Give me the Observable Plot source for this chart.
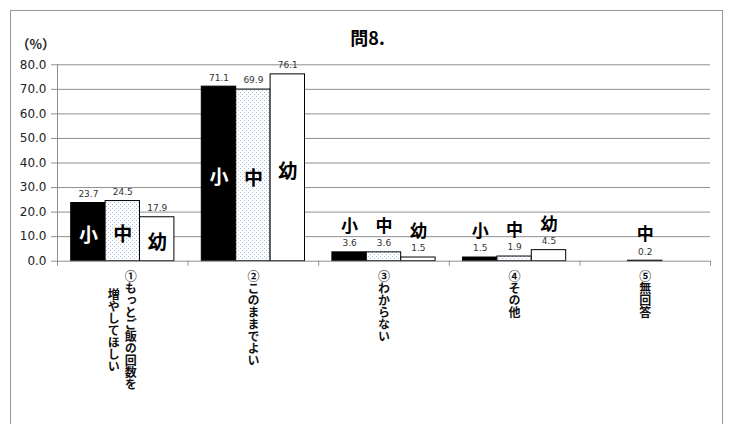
<!DOCTYPE html>
<html>
<head>
<meta charset="utf-8">
<script src="https://cdn.jsdelivr.net/npm/d3@7"></script>
<script src="https://cdn.jsdelivr.net/npm/@observablehq/plot@0.6"></script>
<style>
  html, body { margin: 0; padding: 0; background: #fff; overflow: hidden; }
  #chart { position: relative; width: 731px; height: 424px; }
  #frame { position: absolute; left: 10px; top: 10px; width: 711px; height: 440px;
           border: 1px solid #9a9a9a; pointer-events: none; }
</style>
</head>
<body>
<div id="chart"><div id="frame"></div></div>
<script>
// Answers to question 8, percentage by school level
const categories = ["①もっとご飯の回数を\n増やしてほしい", "②このままでよい", "③わからない", "④その他", "⑤無回答"];
const series = ["小", "中", "幼"];
const valuesSho = [23.7, 71.1, 3.6, 1.5, null];
const valuesChu = [24.5, 69.9, 3.6, 1.9, 0.2];
const valuesYo  = [17.9, 76.1, 1.5, 4.5, null];
const yTicks = [0, 10, 20, 30, 40, 50, 60, 70, 80];
const title = "問8.";
const unitLabel = "（%）";

const seriesValues = [valuesSho, valuesChu, valuesYo];
const rows = categories.flatMap((c, i) =>
  series.map((s, j) => ({category: c, series: s, value: seriesValues[j][i]}))
).filter(d => d.value != null);

// layout
const W = 731, H = 424;
const mL = 57, mR = 21, mT = 64.3, mB = 163.3;
const step = (W - mL - mR) / categories.length;
const barW = 34.4;
const inset = (step - barW) / 2;
const offset = {"小": -barW, "中": 0, "幼": barW};
const fill = {"小": "#000", "中": "url(#dots)", "幼": "#fff"};
const insideColor = {"小": "#fff", "中": "#000", "幼": "#000"};
const jp = "'Noto Sans CJK JP', sans-serif";
const num = "'DejaVu Sans', sans-serif";
const grid = "#8f8f8f";

// category labels split into vertical columns
const labelFont = 12;
const labelTop = 9;
const labelRows = categories.flatMap(c => {
  const lines = c.split("\n");
  return lines.map((t, j) => ({category: c, text: t, j, n: lines.length, len: Array.from(lines[0]).length}));
});
const multiLen = d3.max(labelRows.filter(d => d.n > 1), d => d.len) || 0;

// write category labels top to bottom
const vertical = (index, scales, values, dimensions, context, next) => {
  const g = next(index, scales, values, dimensions, context);
  d3.select(g).selectAll("text").style("writing-mode", "vertical-rl").attr("dy", null);
  return g;
};

// light blue dotted fill for the middle series
const defs = () => {
  const g = d3.create("svg:defs");
  const p = g.append("pattern").attr("id", "dots").attr("patternUnits", "userSpaceOnUse")
    .attr("width", 4).attr("height", 4);
  p.append("rect").attr("width", 4).attr("height", 4).attr("fill", "#fff");
  p.append("rect").attr("x", 0).attr("y", 0).attr("width", 1).attr("height", 1).attr("fill", "#a3bfe0");
  p.append("rect").attr("x", 2).attr("y", 2).attr("width", 1).attr("height", 1).attr("fill", "#a3bfe0");
  return g.node();
};

const marks = [
  defs,
  Plot.ruleY(yTicks.filter(t => t > 0), {y: d => d, stroke: grid, strokeWidth: 1}),
  ...series.map(s => Plot.barY(rows.filter(d => d.series === s), {
    x: "category", y: "value", dx: offset[s], insetLeft: inset, insetRight: inset,
    fill: fill[s], stroke: "#000", strokeWidth: 1
  })),
  Plot.ruleY([0], {stroke: grid}),
  // vertical axis line, and category boundary ticks
  Plot.ruleX(categories.slice(0, 1), {x: d => d, dx: -step / 2, y1: 80, y2: 0, insetBottom: -5, stroke: grid}),
  Plot.ruleX(categories, {x: d => d, dx: step / 2, y1: 0, y2: 0, insetBottom: -5, stroke: grid}),
  Plot.axisY(yTicks, {tickFormat: d => d.toFixed(1), tickSize: 6, tickPadding: 5, fontSize: 12,
    fontFamily: num, stroke: grid, fill: "#222", label: null}),
  // value labels
  ...series.map(s => Plot.text(rows.filter(d => d.series === s), {
    x: "category", y: "value", text: d => d.value.toFixed(1), dx: offset[s], dy: -9,
    fontSize: 9, fontFamily: num, fill: "#333"
  })),
  // series names inside tall bars
  ...series.map(s => Plot.text(rows.filter(d => d.series === s && d.value >= 15), {
    x: "category", y: d => d.value / 2, text: "series", dx: offset[s], dy: 4,
    fontSize: 19, fontWeight: "bold", fontFamily: jp, fill: insideColor[s]
  })),
  // series names above short bars
  ...series.map(s => Plot.text(rows.filter(d => d.series === s && d.value < 15), {
    x: "category", y: "value", text: "series", dx: offset[s], dy: -26,
    fontSize: 17, fontWeight: "bold", fontFamily: jp, fill: "#000"
  })),
  // category labels, written vertically
  Plot.text(labelRows.filter(d => d.n === 1), {
    x: "category", text: "text", frameAnchor: "bottom", dy: labelTop, textAnchor: "start",
    fontSize: labelFont, fontWeight: "bold", fontFamily: jp, fill: "#111",
    render: vertical
  }),
  ...[0, 1].map(j => Plot.text(labelRows.filter(d => d.n > 1 && d.j === j), {
    x: "category", text: "text", frameAnchor: "bottom",
    dy: labelTop + multiLen * labelFont / 2, dx: j === 0 ? 8 : -9, textAnchor: "middle",
    fontSize: labelFont, fontWeight: "bold", fontFamily: jp, fill: "#111",
    render: vertical
  })),
  Plot.text([title], {text: d => d, frameAnchor: "top", dx: -16.5, dy: -33,
    fontSize: 18, fontWeight: "bold", fontFamily: jp, fill: "#000"}),
  Plot.text([unitLabel], {text: d => d, frameAnchor: "top-left", dx: -41, dy: -25, textAnchor: "start",
    fontSize: 13, fontWeight: "bold", fontFamily: jp, fill: "#222"})
];

const chart = Plot.plot({
  width: W, height: H,
  marginLeft: mL, marginRight: mR, marginTop: mT, marginBottom: mB,
  style: {background: "transparent", fontFamily: num, overflow: "visible"},
  x: {domain: categories, padding: 0, round: false, axis: null},
  y: {domain: [0, 80], axis: null},
  marks
});
document.getElementById("chart").prepend(chart);
</script>
</body>
</html>
